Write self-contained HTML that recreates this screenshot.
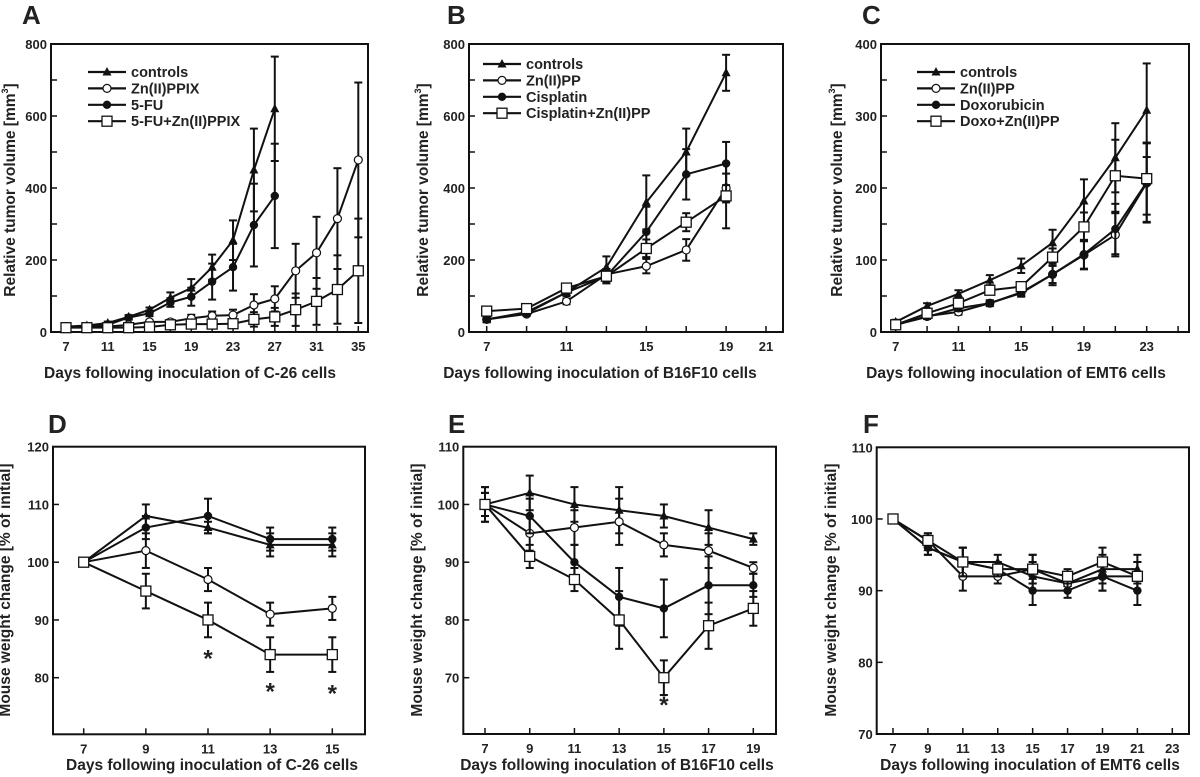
<!DOCTYPE html>
<html><head><meta charset="utf-8"><style>
body{margin:0;background:#fff;}
svg{display:block;font-family:"Liberation Sans",Arial,sans-serif;font-weight:bold;fill:#222;}
</style></head><body>
<svg id="fig" width="1200" height="777" viewBox="0 0 1200 777" xmlns="http://www.w3.org/2000/svg"></svg>
<script>
// ---- Data ----
const aDays=[7,9,11,13,15,17,19,21,23,25,27,29,31,33,35];
const aCtrl=[15,18,25,42,62,95,122,180,255,450,620];
const aCtrlErr=[3,3,4,5,6,15,25,35,55,115,145];
const aZn=[15,15,15,20,28,28,38,45,47,75,92,170,220,315,478];
const aZnErr=[3,3,3,4,5,6,10,12,15,30,35,75,100,140,215];
const aFu=[15,15,20,40,52,82,98,140,180,297,378];
const aFuErr=[3,3,4,5,8,12,25,50,65,115,145];
const aCombo=[12,12,12,12,14,20,22,22,23,35,42,62,85,118,170];
const aComboErr=[2,2,2,2,3,4,5,6,8,20,25,45,65,95,145];

const bDays=[7,9,11,13,15,17,19];
const bCtrl=[35,55,110,180,360,500,720];
const bCtrlErr=[8,8,10,30,75,65,50];
const bZn=[35,50,85,160,183,228,400];
const bZnErr=[5,5,8,15,20,30,40];
const bCis=[35,52,110,155,278,438,468];
const bCisErr=[5,5,8,20,70,70,60];
const bCombo=[58,65,122,155,232,305,378];
const bComboErr=[5,5,8,15,25,25,90];

const cDays=[7,9,11,13,15,17,19,21,23];
const cCtrl=[14,36,53,72,92,124,182,242,308];
const cCtrlErr=[3,4,5,7,10,18,30,48,65];
const cZn=[10,22,28,40,55,80,107,135,207];
const cZnErr=[2,3,4,4,5,15,20,30,55];
const cDox=[10,21,33,40,54,80,108,143,208];
const cDoxErr=[2,3,4,4,5,12,20,35,55];
const cCombo=[10,26,40,58,63,104,146,217,213];
const cComboErr=[2,3,4,5,6,12,20,50,50];

const dDays=[7,9,11,13,15];
const dCtrl=[100,108,106,103,103];
const dFu=[100,106,108,104,104];
const dZn=[100,102,97,91,92];
const dCombo=[100,95,90,84,84];
const dErr=[0,2,1,2,2];
const dFuErr=[0,2,3,2,2];
const dZnErr=[0,3,2,2,2];
const dComboErr=[0,3,3,3,3];
const dStars=[[11,84],[13,78.3],[15,78]];

const eDays=[7,9,11,13,15,17,19];
const eCtrl=[100,102,100,99,98,96,94];
const eZn=[100,95,96,97,93,92,89];
const eCis=[100,98,90,84,82,86,86];
const eCombo=[100,91,87,80,70,79,82];
const eErr=[3,3,3,4,2,3,1];
const eCisErr=[2,3,3,5,5,5,2];
const eComboErr=[2,2,2,5,3,4,3];
const eStars=[[15,66]];

const fDays=[7,9,11,13,15,17,19,21];
const fCtrl=[100,96,94,94,92,91,93,93];
const fZn=[100,97,92,92,93,91,92,92];
const fDox=[100,96,94,93,90,90,92,90];
const fCombo=[100,97,94,93,93,92,94,92];
const fErr=[0,1,2,1,2,1,2,2];

// ---- Rendering ----
const NS="http://www.w3.org/2000/svg";
const svg=document.getElementById('fig');
function el(tag,attrs,parent,text){const e=document.createElementNS(NS,tag);for(const k in attrs)e.setAttribute(k,attrs[k]);if(text!==undefined)e.textContent=text;(parent||svg).appendChild(e);return e;}

function marker(g,type,x,y){
  let m;
  if(type==='tri'){m=el('polygon',{points:`${x},${y-5} ${x-4.5},${y+3.5} ${x+4.5},${y+3.5}`,fill:'#111'},g);}
  else if(type==='circ'){m=el('circle',{cx:x,cy:y,r:4,fill:'#fff',stroke:'#111','stroke-width':1.2},g);}
  else if(type==='dot'){m=el('circle',{cx:x,cy:y,r:4.2,fill:'#111'},g);}
  else {m=el('rect',{x:x-5,y:y-5,width:10,height:10,fill:'#fff',stroke:'#111','stroke-width':1.3},g);}
  return m;
}

function panel(P){
  const g=el('g',{});
  
  
  const sx=d=>P.x0+(d-P.d0)*(P.x1-P.x0)/(P.d1-P.d0);
  const sy=v=>P.y0+(v-P.v0)*(P.y1-P.y0)/(P.v1-P.v0);
  const lab=el('text',{x:P.lx,y:P.ly,'font-size':26},g,P.id);
  
  
  const box=el('rect',{x:P.bx0,y:P.by0,width:P.bx1-P.bx0,height:P.by1-P.by0,fill:'none',stroke:'#111','stroke-width':2},g);
  
  
  P.xticks.forEach(d=>{const x=sx(d);el('line',{x1:x,y1:P.by1,x2:x,y2:P.by1-6,stroke:'#111','stroke-width':1.5},g);});
  P.xlabels.forEach(d=>{const t=el('text',{x:sx(d),y:P.by1+19,'font-size':13,'text-anchor':'middle'},g,String(d));
    
    });
  P.yticks.forEach(v=>{const y=sy(v);el('line',{x1:P.bx0,y1:y,x2:P.bx0+6,y2:y,stroke:'#111','stroke-width':1.5},g);});
  P.ylabels.forEach(v=>{const t=el('text',{x:P.bx0-4,y:sy(v)+5,'font-size':13,'text-anchor':'end'},g,String(v));
    
    });
  const xt=el('text',{x:P.xtx,y:P.xty,'font-size':15.5,'text-anchor':'middle'},g,P.xtitle);
  
  
  const yt=el('text',{x:0,y:0,'font-size':15.5,'text-anchor':'middle',transform:`translate(${P.ytx},${P.yty}) rotate(-90)`},g);
  if(P.mm){yt.textContent='Relative tumor volume [mm';const s=el('tspan',{'font-size':9,dy:-7},yt,'3');const s2=el('tspan',{dy:7},yt,']');}
  else yt.textContent='Mouse weight change [% of initial]';
  
  
  P.series.forEach(s=>{
    const sg=el('g',{},g);
    
    
    const n=s.v.length;
    // error bars
    for(let i=0;i<n;i++){const e=s.e[i];if(!e)continue;const x=sx(P.days[i]);
      const ya=sy(s.v[i]+e),yb=sy(s.v[i]-e);
      el('line',{x1:x,y1:ya,x2:x,y2:yb,stroke:'#111','stroke-width':2},sg);
      el('line',{x1:x-4,y1:ya,x2:x+4,y2:ya,stroke:'#111','stroke-width':2},sg);
      el('line',{x1:x-4,y1:yb,x2:x+4,y2:yb,stroke:'#111','stroke-width':2},sg);}
    let pts=[];for(let i=0;i<n;i++)pts.push(sx(P.days[i])+','+sy(s.v[i]));
    const pl=el('polyline',{points:pts.join(' '),fill:'none',stroke:'#111','stroke-width':2},sg);
    
    
    for(let i=0;i<n;i++){const m=marker(sg,s.m,sx(P.days[i]),sy(s.v[i]));
      
      }
  });
  (P.stars||[]).forEach(st=>{const t=el('text',{x:sx(st[0]),y:sy(st[1])+12,'font-size':24,'text-anchor':'middle'},g,'*');
    
    });
  if(P.legend){P.legend.items.forEach((it,i)=>{
    const lg=el('g',{},g);
    
    
    const y=P.legend.y+i*16.4;
    el('line',{x1:P.legend.x,y1:y,x2:P.legend.x+38,y2:y,stroke:'#111','stroke-width':2.2},lg);
    marker(lg,it[1],P.legend.x+19,y);
    el('text',{x:P.legend.x+43,y:y+5,'font-size':14.5},lg,it[0]);});}
}

function range(a,b,s){const r=[];for(let v=a;v<=b+1e-9;v+=s)r.push(v);return r;}

panel({id:'A',lx:22,ly:24,bx0:51,bx1:368,by0:44,by1:332,x0:66,d0:7,x1:358.3,d1:35,y0:332,v0:0,y1:44,v1:800,
 xticks:range(7,35,2),xlabels:[7,11,15,19,23,27,31,35],yticks:range(0,800,100),ylabels:[0,200,400,600,800],
 xtitle:'Days following inoculation of C-26 cells',xtx:190,xty:378,ytx:15,yty:190,mm:true,days:aDays,
 series:[{name:'controls',m:'tri',v:aCtrl,e:aCtrlErr},{name:'zn-ppix',m:'circ',v:aZn,e:aZnErr},{name:'5-fu',m:'dot',v:aFu,e:aFuErr},{name:'5-fu-zn-ppix',m:'sq',v:aCombo,e:aComboErr}],
 legend:{x:88,y:72,items:[['controls','tri'],['Zn(II)PPIX','circ'],['5-FU','dot'],['5-FU+Zn(II)PPIX','sq']]}});

panel({id:'B',lx:447,ly:24,bx0:469,bx1:783,by0:44,by1:332,x0:486.7,d0:7,x1:766,d1:21,y0:332,v0:0,y1:44,v1:800,
 xticks:range(7,21,2),xlabels:[7,11,15,19,21],yticks:range(0,800,100),ylabels:[0,200,400,600,800],
 xtitle:'Days following inoculation of B16F10 cells',xtx:600,xty:378,ytx:428,yty:190,mm:true,days:bDays,
 series:[{name:'controls',m:'tri',v:bCtrl,e:bCtrlErr},{name:'zn-pp',m:'circ',v:bZn,e:bZnErr},{name:'cisplatin',m:'dot',v:bCis,e:bCisErr},{name:'cisplatin-zn-pp',m:'sq',v:bCombo,e:bComboErr}],
 legend:{x:483,y:64,items:[['controls','tri'],['Zn(II)PP','circ'],['Cisplatin','dot'],['Cisplatin+Zn(II)PP','sq']]}});

panel({id:'C',lx:862,ly:24,bx0:881,bx1:1189,by0:44,by1:332,x0:895.7,d0:7,x1:1146.7,d1:23,y0:332,v0:0,y1:44,v1:400,
 xticks:range(7,25,2),xlabels:[7,11,15,19,23],yticks:range(0,400,50),ylabels:[0,100,200,300,400],
 xtitle:'Days following inoculation of EMT6 cells',xtx:1016,xty:378,ytx:842,yty:190,mm:true,days:cDays,
 series:[{name:'controls',m:'tri',v:cCtrl,e:cCtrlErr},{name:'zn-pp',m:'circ',v:cZn,e:cZnErr},{name:'doxorubicin',m:'dot',v:cDox,e:cDoxErr},{name:'doxo-zn-pp',m:'sq',v:cCombo,e:cComboErr}],
 legend:{x:917,y:72,items:[['controls','tri'],['Zn(II)PP','circ'],['Doxorubicin','dot'],['Doxo+Zn(II)PP','sq']]}});

panel({id:'D',lx:48,ly:433,bx0:53,bx1:365,by0:446.7,by1:734.3,x0:83.7,d0:7,x1:332.3,d1:15,y0:677.7,v0:80,y1:446.7,v1:120,
 xticks:[7,9,11,13,15],xlabels:[7,9,11,13,15],yticks:[80,90,100,110,120],ylabels:[80,90,100,110,120],
 xtitle:'Days following inoculation of C-26 cells',xtx:212,xty:770,ytx:10,yty:590,mm:false,days:dDays,
 series:[{name:'controls',m:'tri',v:dCtrl,e:dErr},{name:'5-fu',m:'dot',v:dFu,e:dFuErr},{name:'zn-ppix',m:'circ',v:dZn,e:dZnErr},{name:'5-fu-zn-ppix',m:'sq',v:dCombo,e:dComboErr}],
 stars:dStars});

panel({id:'E',lx:448,ly:433,bx0:463.3,bx1:776,by0:446.7,by1:734,x0:485,d0:7,x1:753.3,d1:19,y0:677.7,v0:70,y1:446.7,v1:110,
 xticks:[7,9,11,13,15,17,19],xlabels:[7,9,11,13,15,17,19],yticks:[70,80,90,100,110],ylabels:[70,80,90,100,110],
 xtitle:'Days following inoculation of B16F10 cells',xtx:617,xty:770,ytx:422,yty:590,mm:false,days:eDays,
 series:[{name:'controls',m:'tri',v:eCtrl,e:eErr},{name:'zn-pp',m:'circ',v:eZn,e:eErr},{name:'cisplatin',m:'dot',v:eCis,e:eCisErr},{name:'cisplatin-zn-pp',m:'sq',v:eCombo,e:eComboErr}],
 stars:eStars});

panel({id:'F',lx:863,ly:433,bx0:876.7,bx1:1189,by0:447.3,by1:734,x0:893,d0:7,x1:1172.3,d1:23,y0:734,v0:70,y1:447.3,v1:110,
 xticks:range(7,23,2),xlabels:range(7,23,2),yticks:[70,80,90,100,110],ylabels:[70,80,90,100,110],
 xtitle:'Days following inoculation of EMT6 cells',xtx:1030,xty:770,ytx:836,yty:590,mm:false,days:fDays,
 series:[{name:'controls',m:'tri',v:fCtrl,e:fErr},{name:'zn-pp',m:'circ',v:fZn,e:fErr},{name:'doxorubicin',m:'dot',v:fDox,e:fErr},{name:'doxo-zn-pp',m:'sq',v:fCombo,e:fErr}]});
</script>
</body></html>
